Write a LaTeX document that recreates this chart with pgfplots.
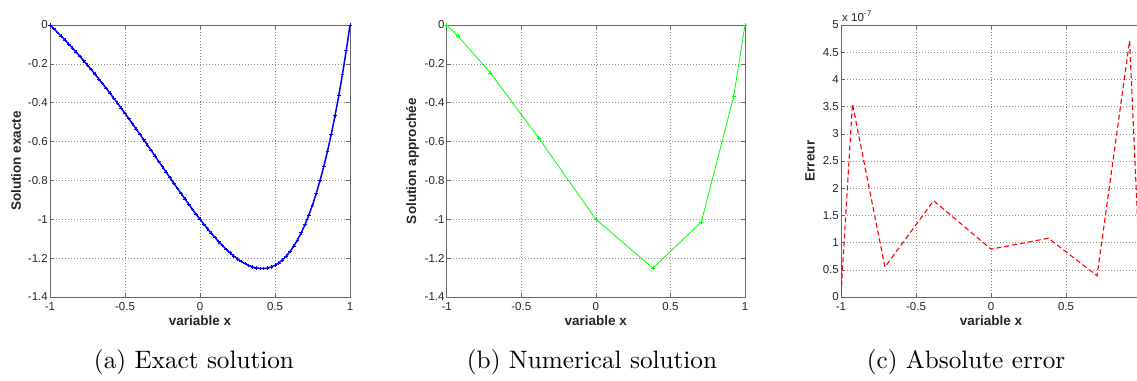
\documentclass[border=0pt]{standalone}
\usepackage{pgfplots}
\pgfplotsset{compat=1.18}
\usepackage{fontspec}
\usepackage{graphicx}
\newfontfamily\arial{Liberation Sans}
\definecolor{mblue}{RGB}{0,0,255}
\definecolor{mgreen}{RGB}{0,255,0}
\definecolor{mred}{RGB}{255,0,0}
\pgfplotsset{
  mat/.style={
    scale only axis, height=272pt,
    anchor=south west,
    xmin=-1, xmax=1,
    xtick={-1,-0.5,0,0.5,1},
    grid=major,
    grid style={black!45, line width=0.5pt, dash pattern=on 0.8pt off 2.2pt},
    axis line style={black!60, line width=0.8pt},
    tick style={black!60, line width=0.6pt},
    tick align=inside,
    major tick length=4pt,
    /pgf/number format/assume math mode=true,
    ticklabel style={font=\arial\fontsize{11.5}{13}\selectfont, text=black!85},
    xticklabel style={anchor=base, yshift=-13pt},
    yticklabel style={inner sep=0pt, xshift=-2pt},
    label style={font=\arial\bfseries\fontsize{13.5}{15}\selectfont, text=black!85},
    xlabel style={at={(axis description cs:0.5,0)}, anchor=base, yshift=-28pt},
    ylabel style={anchor=center},
    clip=true,
  }
}
\begin{document}
\begin{tikzpicture}
\useasboundingbox (0,0) rectangle (1137pt,380pt);
\clip (0,0) rectangle (1137pt,380pt);

% (a) Exact solution
\begin{axis}[mat, at={(50pt,83pt)}, width=300pt,
  ymin=-1.4, ymax=0, ytick={-1.4,-1.2,-1,-0.8,-0.6,-0.4,-0.2,0},
  xlabel={variable x}, ylabel={Solution exacte},
  ylabel style={at={(axis description cs:-0.113,0.5)}}]
\addplot[color=mblue, line width=1.5pt, mark=+, mark size=1.8pt, mark options={line width=0.7pt}] coordinates {
(-1,0) (-0.975,-0.0186) (-0.95,-0.0377) (-0.925,-0.0572) (-0.9,-0.0772)
(-0.875,-0.0977) (-0.85,-0.1186) (-0.825,-0.1400) (-0.8,-0.1618) (-0.775,-0.1840)
(-0.75,-0.2067) (-0.725,-0.2298) (-0.7,-0.2533) (-0.675,-0.2772) (-0.65,-0.3015)
(-0.625,-0.3262) (-0.6,-0.3512) (-0.575,-0.3767) (-0.55,-0.4024) (-0.525,-0.4285)
(-0.5,-0.4549) (-0.475,-0.4816) (-0.45,-0.5085) (-0.425,-0.5357) (-0.4,-0.5631)
(-0.375,-0.5906) (-0.35,-0.6184) (-0.325,-0.6462) (-0.3,-0.6741) (-0.275,-0.7021)
(-0.25,-0.7301) (-0.225,-0.7581) (-0.2,-0.7860) (-0.175,-0.8137) (-0.15,-0.8413)
(-0.125,-0.8687) (-0.1,-0.8958) (-0.075,-0.9225) (-0.05,-0.9489) (-0.025,-0.9747)
(0,-1) (0.025,-1.0247) (0.05,-1.0486) (0.075,-1.0718) (0.1,-1.0941)
(0.125,-1.1154) (0.15,-1.1357) (0.175,-1.1548) (0.2,-1.1725) (0.225,-1.1889)
(0.25,-1.2038) (0.275,-1.2170) (0.3,-1.2284) (0.325,-1.2378) (0.35,-1.2452)
(0.375,-1.2504) (0.4,-1.2531) (0.425,-1.2533) (0.45,-1.2507) (0.475,-1.2452)
(0.5,-1.2365) (0.525,-1.2245) (0.55,-1.2089) (0.575,-1.1896) (0.6,-1.1662)
(0.625,-1.1385) (0.65,-1.1062) (0.675,-1.0692) (0.7,-1.0270) (0.725,-0.9795)
(0.75,-0.9262) (0.775,-0.8669) (0.8,-0.8012) (0.825,-0.7288) (0.85,-0.6493)
(0.875,-0.5622) (0.9,-0.4673) (0.925,-0.3641) (0.95,-0.2521) (0.975,-0.1309)
(1,0)
};
\end{axis}

% (b) Numerical solution
\begin{axis}[mat, at={(446.7pt,83pt)}, width=298.3pt,
  ymin=-1.4, ymax=0, ytick={-1.4,-1.2,-1,-0.8,-0.6,-0.4,-0.2,0},
  xlabel={variable x}, ylabel={Solution approch\'ee},
  ylabel style={at={(axis description cs:-0.114,0.5)}}]
\addplot[color=mgreen, line width=0.8pt, mark=+, mark size=2pt, mark options={line width=0.6pt}] coordinates {
(-1,0) (-0.92388,-0.0581) (-0.70711,-0.2465) (-0.38268,-0.5821) (0,-1)
(0.38268,-1.2515) (0.70711,-1.0141) (0.92388,-0.3689) (1,0)
};
\end{axis}

% (c) Absolute error
\begin{axis}[mat, at={(841pt,83pt)}, width=300pt,
  ymin=0, ymax=5, ytick={0,0.5,1,1.5,2,2.5,3,3.5,4,4.5,5},
  xtick={-1,-0.5,0,0.5},
  xlabel={variable x}, ylabel={Erreur},
  ylabel style={at={(axis description cs:-0.103,0.5)}}]
\addplot[color=mred, line width=1.1pt, dash pattern=on 5pt off 3pt] coordinates {
(-1,0.05) (-0.92388,3.55) (-0.70711,0.55) (-0.38268,1.77) (0,0.88)
(0.38268,1.08) (0.70711,0.39) (0.92388,4.71) (1,0)
};
\end{axis}
\node[anchor=base west, inner sep=0pt, text=black!85] at (842pt,358pt)
  {\arial\fontsize{11.5}{13}\selectfont x 10\raisebox{5pt}{\fontsize{8.5}{10}\selectfont -7}};

% captions
\node[anchor=base, inner sep=0pt] at (194pt,12pt) {\scalebox{2.52}{(a) Exact solution}};
\node[anchor=base, inner sep=0pt] at (592pt,12pt) {\scalebox{2.52}{(b) Numerical solution}};
\node[anchor=base, inner sep=0pt] at (966pt,12pt) {\scalebox{2.52}{(c) Absolute error}};
\end{tikzpicture}
\end{document}
